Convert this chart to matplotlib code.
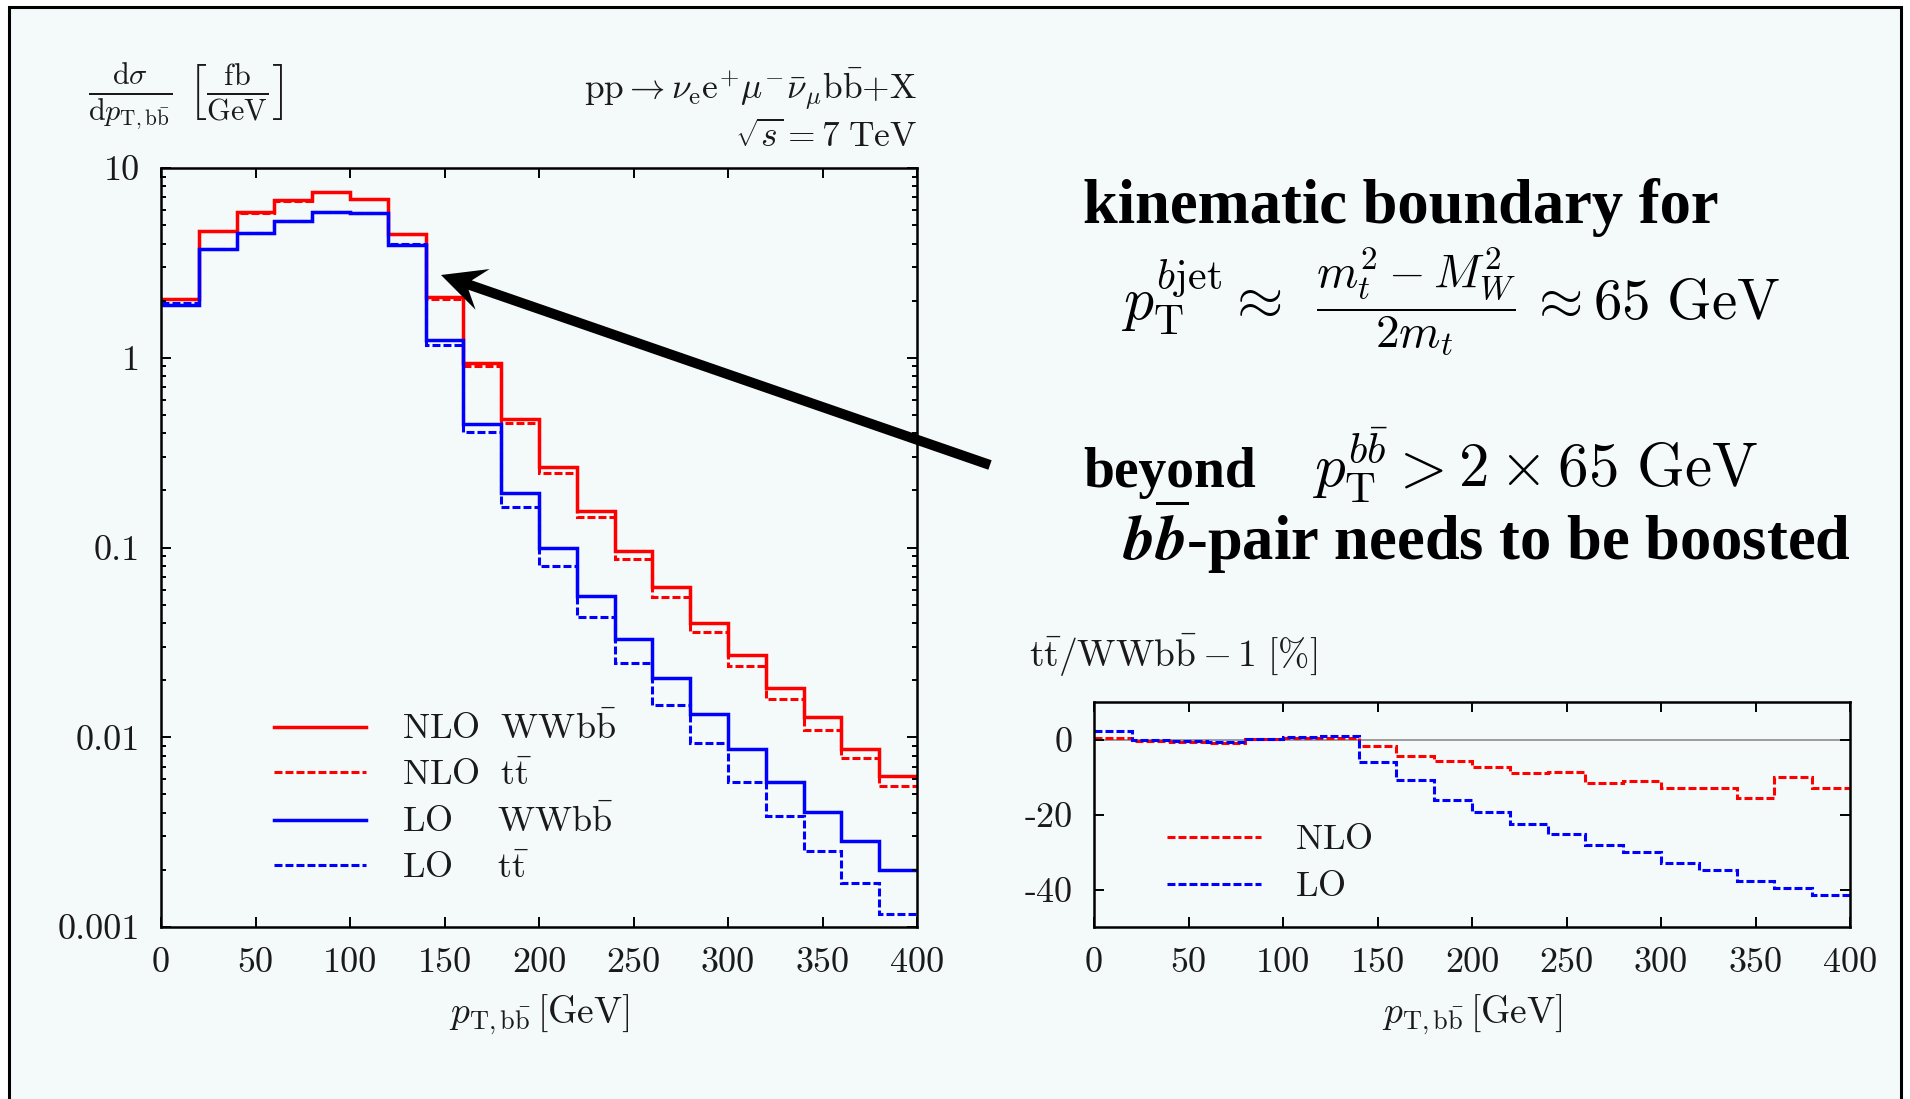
import numpy as np
import matplotlib
matplotlib.use('Agg')
import matplotlib.pyplot as plt
from matplotlib.patches import Rectangle, FancyArrow
from matplotlib import transforms as mtransforms
from matplotlib.lines import Line2D

plt.rcParams['mathtext.fontset'] = 'cm'
plt.rcParams['font.family'] = 'DejaVu Serif'

# bin edges in GeV
pt_edges = [0, 20, 40, 60, 80, 100, 120, 140, 160, 180, 200,
            220, 240, 260, 280, 300, 320, 340, 360, 380, 400]

# dsigma/dpT [fb/GeV]
nlo_wwbb = [2.04, 4.66, 5.84, 6.78, 7.45, 6.84, 4.47, 2.08, 0.933, 0.477,
            0.267, 0.156, 0.0955, 0.0617, 0.0401, 0.0270, 0.0181, 0.01285, 0.00865, 0.00628]
nlo_tt = [2.05, 4.63, 5.80, 6.72, 7.46, 6.86, 4.48, 2.04, 0.904, 0.455,
          0.248, 0.1445, 0.0873, 0.0549, 0.0360, 0.0236, 0.0159, 0.0109, 0.00782, 0.00552]
lo_wwbb = [1.90, 3.76, 4.53, 5.27, 5.86, 5.77, 3.94, 1.24, 0.445, 0.1945,
           0.0991, 0.0554, 0.0331, 0.0205, 0.0132, 0.00865, 0.00583, 0.00404, 0.00285, 0.00199]
lo_tt = [1.95, 3.76, 4.52, 5.24, 5.87, 5.80, 3.97, 1.17, 0.405, 0.1637,
         0.0796, 0.0432, 0.0247, 0.0148, 0.00929, 0.00583, 0.00384, 0.00253, 0.00171, 0.00117]

# tt/WWbb - 1 [%]
ratio_nlo = [0.35, -0.4, -0.6, -1.0, 0.1, 0.5, 0.3, -1.7, -4.4, -5.7,
             -7.2, -8.9, -8.6, -11.5, -11.0, -12.9, -12.9, -15.6, -9.9, -13.0]
ratio_lo = [2.2, -0.1, -0.4, -0.6, 0.1, 0.6, 0.9, -6.0, -10.8, -16.2,
            -19.3, -22.4, -25.2, -28.2, -30.1, -32.8, -34.8, -37.6, -39.6, -41.5]

x_ticks = [0, 50, 100, 150, 200, 250, 300, 350, 400]
y_ticks = [0.001, 0.01, 0.1, 1, 10]
y_ticklabels = ['0.001', '0.01', '0.1', '1', '10']
r_ticks = [-40, -20, 0]
r_ticklabels = ['-40', '-20', '0']

BG = '#f4f9f9'
TXT = '#1a1a1a'
RED = '#ff0000'
BLUE = '#0000ff'
W, H = 1910, 1099

fig = plt.figure(figsize=(W / 100, H / 100), dpi=100)
fig.patch.set_facecolor('white')
px = mtransforms.Affine2D().scale(1 / W, 1 / H) + fig.transFigure

# slide frame, kept behind the axes
fig.add_artist(Rectangle((9, -20), 1892, H - 7 + 20, transform=px,
                         facecolor=BG, edgecolor='black', lw=2.2, zorder=-10))


def style_axes(ax):
    ax.set_facecolor(BG)
    for sp in ax.spines.values():
        sp.set_linewidth(1.8)
    ax.tick_params(which='both', direction='in', top=True, right=True,
                   colors='black', width=1.4, labelcolor=TXT)
    ax.tick_params(which='major', length=7.5, pad=15, labelsize=26)
    ax.tick_params(which='minor', length=3.8)
    ax.set_xlim(0, 400)
    ax.set_xticks(x_ticks)
    ax.set_xticklabels([str(v) for v in x_ticks], fontfamily='cmr10')


dash = (0, (2.6, 1.0))

# main panel
ax = fig.add_axes([161 / W, 1 - 927 / H, 756 / W, 759 / H])
style_axes(ax)
ax.set_yscale('log')
ax.set_ylim(0.001, 10)
ax.set_yticks(y_ticks)
ax.set_yticklabels(y_ticklabels, fontfamily='cmr10')
ax.stairs(nlo_wwbb, pt_edges, baseline=None, color=RED, lw=2.5)
ax.stairs(nlo_tt, pt_edges, baseline=None, color=RED, lw=2.2, ls=dash)
ax.stairs(lo_wwbb, pt_edges, baseline=None, color=BLUE, lw=2.5)
ax.stairs(lo_tt, pt_edges, baseline=None, color=BLUE, lw=2.2, ls=dash)
h = [Line2D([], [], color=RED, lw=2.5), Line2D([], [], color=RED, lw=2.2, ls=dash),
     Line2D([], [], color=BLUE, lw=2.5), Line2D([], [], color=BLUE, lw=2.2, ls=dash)]
lab = [r'$\mathrm{NLO}\ \ \mathrm{WWb\bar{b}}$', r'$\mathrm{NLO}\ \ \mathrm{t\bar{t}}$',
       r'$\mathrm{LO}\hspace{0.75}\ \ \mathrm{WWb\bar{b}}$', r'$\mathrm{LO}\hspace{0.75}\ \ \mathrm{t\bar{t}}$']
leg = ax.legend(h, lab, loc='upper left', bbox_to_anchor=(0.149, 0.285),
                frameon=False, fontsize=26, handlelength=2.55, handletextpad=1.0,
                labelspacing=0.32, borderpad=0, borderaxespad=0)
for t in leg.get_texts():
    t.set_color(TXT)

fig.text(88 / W, 1 - 97 / H,
         r'$\frac{\mathrm{d}\sigma}{\mathrm{d}p_{\mathrm{T,b\bar{b}}}}\ \left[\frac{\mathrm{fb}}{\mathrm{GeV}}\right]$',
         fontsize=31, color=TXT, ha='left', va='center')
fig.text(917 / W, 1 - 89 / H,
         r'$\mathrm{pp} \rightarrow \nu_\mathrm{e}\mathrm{e}^{+}\mu^{-}\bar{\nu}_\mu\mathrm{b\bar{b}}{+}\mathrm{X}$',
         fontsize=25.5, color=TXT, ha='right', va='center')
fig.text(917 / W, 1 - 137 / H, r'$\sqrt{s} = 7\;\mathrm{TeV}$',
         fontsize=25.5, color=TXT, ha='right', va='center')
fig.text(539 / W, 1 - 1015 / H, r'$p_{\mathrm{T,b\bar{b}}}\,[\mathrm{GeV}]$',
         fontsize=27, color=TXT, ha='center', va='center')

# ratio panel
rx = fig.add_axes([1094 / W, 1 - 927 / H, 756 / W, 225 / H])
style_axes(rx)
rx.set_ylim(-50, 10)
rx.set_yticks(r_ticks)
rx.set_yticklabels(r_ticklabels, fontfamily='cmr10')
rx.axhline(0, color='#8c8c8c', lw=1.2, zorder=1)
rx.stairs(ratio_nlo, pt_edges, baseline=None, color=RED, lw=2.2, ls=dash)
rx.stairs(ratio_lo, pt_edges, baseline=None, color=BLUE, lw=2.2, ls=dash)
rh = [Line2D([], [], color=RED, lw=2.2, ls=dash), Line2D([], [], color=BLUE, lw=2.2, ls=dash)]
rleg = rx.legend(rh, [r'$\mathrm{NLO}$', r'$\mathrm{LO}$'], loc='upper left',
                 bbox_to_anchor=(0.0966, 0.465), frameon=False, fontsize=26,
                 handlelength=2.6, handletextpad=0.95, labelspacing=0.36,
                 borderpad=0, borderaxespad=0)
for t in rleg.get_texts():
    t.set_color(TXT)

fig.text(1029 / W, 1 - 655 / H, r'$\mathrm{t\bar{t}/WWb\bar{b}} - 1\ [\%]$',
         fontsize=27, color=TXT, ha='left', va='center')
fig.text(1472 / W, 1 - 1015 / H, r'$p_{\mathrm{T,b\bar{b}}}\,[\mathrm{GeV}]$',
         fontsize=27, color=TXT, ha='center', va='center')

# annotation text
bold = dict(fontfamily='Liberation Serif', fontweight='bold', color='black')
fig.text(1083 / W, 1 - 223 / H, 'kinematic boundary for', fontsize=45,
         va='baseline', ha='left', **bold)
fig.text(1121 / W, 1 - 319 / H, r'$p_\mathrm{T}^{b\mathrm{jet}} \approx$',
         fontsize=43, va='baseline', ha='left', color='black')
fig.text(1316 / W, 1 - 319 / H, r'$\dfrac{m_t^2 - M_W^2}{2m_t}$',
         fontsize=34, va='baseline', ha='left', color='black')
fig.text(1529 / W, 1 - 319 / H, r'$\approx 65\ \mathrm{GeV}$',
         fontsize=41, va='baseline', ha='left', color='black')
fig.text(1083 / W, 1 - 487 / H, 'beyond', fontsize=40,
         va='baseline', ha='left', **bold)
fig.text(1312 / W, 1 - 487 / H, r'$p_\mathrm{T}^{b\bar{b}} > 2 \times 65\ \mathrm{GeV}$',
         fontsize=44, va='baseline', ha='left', color='black')
fig.text(1123 / W, 1 - 560 / H,
         r'$\mathbfit{b}\overline{\mathbfit{b}}$-pair needs to be boosted',
         fontsize=45, va='baseline', ha='left', math_fontfamily='stix', **bold)

# arrow to the kinematic edge
fig.add_artist(FancyArrow(990, H - 465, 441 - 990, 465 - 275, width=10,
                          head_width=43, head_length=44, overhang=0.3,
                          length_includes_head=True, transform=px,
                          color='black', lw=0))

fig.savefig('out.png', dpi=100, facecolor=fig.get_facecolor())
